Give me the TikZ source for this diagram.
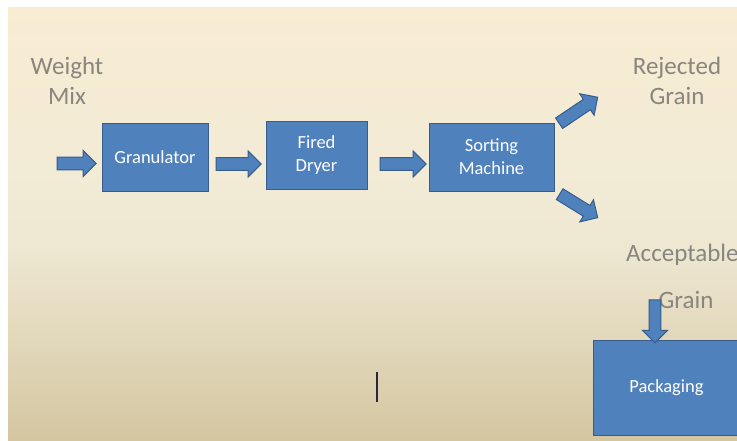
\documentclass[tikz,border=0pt]{standalone}
\usepackage{fontspec}
\setmainfont{Carlito}
\usepackage{tikz}
\usetikzlibrary{shapes.arrows}
\definecolor{slideblue}{RGB}{79,129,189}
\definecolor{slideedge}{RGB}{56,93,138}
\definecolor{labelgray}{RGB}{137,133,127}
\definecolor{bgtop}{RGB}{248,236,211}
\definecolor{bghigh}{RGB}{242,235,214}
\definecolor{bgmid}{RGB}{238,231,210}
\definecolor{bglow}{RGB}{224,214,184}
\definecolor{bgbot}{RGB}{212,198,160}
\definecolor{cursorink}{RGB}{40,40,60}
\pgfdeclareverticalshading{slidebg}{100bp}{color(0bp)=(bgbot); color(25bp)=(bgbot);
  color(35.4bp)=(bglow); color(47bp)=(bgmid); color(56bp)=(bghigh);
  color(75bp)=(bgtop); color(100bp)=(bgtop)}

\begin{document}
\begin{tikzpicture}[x=1pt, y=-1pt,
  stage/.style={draw=slideedge, fill=slideblue, line width=1pt, text=white,
    font=\fontsize{18.5}{23}\selectfont, align=center, inner sep=0pt},
  flow/.style={single arrow, draw=slideedge, fill=slideblue, line width=1pt,
    inner xsep=0pt, inner ysep=5.8pt, single arrow head extend=6.7pt},
  caption/.style={labelgray, font=\fontsize{25}{30}\selectfont, align=center}]
  \useasboundingbox (0,0) rectangle (737,440);
  \clip (0,0) rectangle (737,440);
  \fill[white] (0,0) rectangle (737,440);
  \shade[shading=slidebg] (8,7) rectangle (737,440);
  % labels
  \node[caption] (mixlbl) at (67,81) {Weight\\Mix};
  \node[caption] (rejlbl) at (677,81) {Rejected\\Grain};
  \node[caption, anchor=west, inner sep=0pt] (acclbl) at (626,255) {Acceptable};
  \node[caption] (grainlbl) at (686,300) {Grain};
  % process boxes
  \node[stage, minimum width=106pt, minimum height=68pt] (gran) at (155,157) {Granulator};
  \node[stage, minimum width=101pt, minimum height=68pt] (dryer) at (316.5,155) {Fired\\Dryer};
  \node[stage, minimum width=125pt, minimum height=68pt] (sorter) at (491.5,157) {Sorting\\Machine};
  \node[stage, minimum width=147pt, minimum height=95pt] (pack) at (666.5,387.5) {Packaging};
  % block arrows
  \node[flow, minimum height=39pt] (in1) at (73.5,163.5) {};
  \node[flow, minimum height=45pt] (g2d) at (235.5,164) {};
  \node[flow, minimum height=46pt] (d2s) at (400,164) {};
  \node[flow, minimum height=46.5pt, rotate=34] (toreject) at (575.75,112) {};
  \node[flow, minimum height=44.7pt, rotate=-31.7] (toaccept) at (576,204.25) {};
  \node[flow, minimum height=43pt, rotate=-90, inner ysep=5.35pt,
    single arrow head extend=6.6pt] (topack) at (655,318.5) {};
  % text cursor
  \draw[cursorink, line width=1.3pt] (377,372) -- (377,402);
\end{tikzpicture}
\end{document}
